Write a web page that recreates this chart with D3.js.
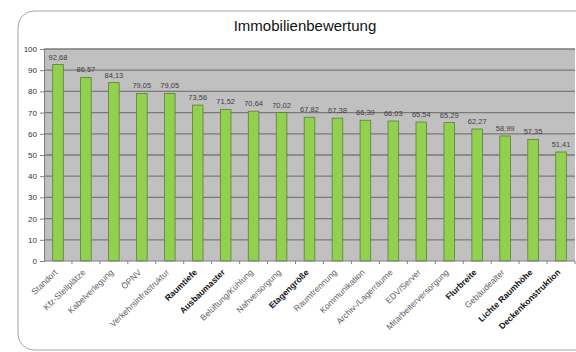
<!DOCTYPE html>
<html>
<head>
<meta charset="utf-8">
<script src="https://cdn.jsdelivr.net/npm/d3@7"></script>
<style>
  body { margin: 0; background: #fff; }
  svg { display: block; font-family: "Liberation Sans", Arial, sans-serif; }
</style>
</head>
<body>
<div id="chart"></div>
<script>
// Kategorien (Reihenfolge wie im Original)
const categories = [
    'Standort', 'Kfz-Stellplätze', 'Kabelverlegung', 'ÖPNV', 'Verkehrsinfrastruktur',
    'Raumtiefe', 'Ausbaumaster', 'Belüftung/Kühlung', 'Nahversorgung', 'Etagengröße',
    'Raumtrennung', 'Kommunikation', 'Archiv-/Lagerräume', 'EDV/Server', 'Mitarbeiterversorgung',
    'Flurbreite', 'Gebäudealter', 'Lichte Raumhöhe', 'Deckenkonstruktion'
];

const values = [
    92.68, 86.57, 84.13, 79.05, 79.05,
    73.56, 71.52, 70.64, 70.02, 67.82,
    67.38, 66.39, 66.03, 65.54, 65.29,
    62.27, 58.99, 57.35, 51.41
];

// fett gesetzte Kategorien
const boldCategories = ['Raumtiefe', 'Ausbaumaster', 'Etagengröße', 'Flurbreite', 'Lichte Raumhöhe', 'Deckenkonstruktion'];

const yTicks = [0, 10, 20, 30, 40, 50, 60, 70, 80, 90, 100];

const width = 576, height = 352;
const margin = { top: 49, right: 1, bottom: 91, left: 44 };

const deLocale = d3.formatLocale({ decimal: ',', thousands: '.', grouping: [3], currency: ['', ' €'] });
const fmt = deLocale.format('.2f');

const svg = d3.select('#chart').append('svg')
    .attr('width', width)
    .attr('height', height);

// Rahmen (rechts abgeschnitten)
svg.append('rect')
    .attr('x', 18)
    .attr('y', 11)
    .attr('width', 620)
    .attr('height', 339)
    .attr('rx', 16)
    .attr('fill', '#fff')
    .attr('stroke', '#a6a6a6')
    .attr('stroke-width', 1);

svg.append('text')
    .attr('x', 305)
    .attr('y', 31)
    .attr('text-anchor', 'middle')
    .attr('font-size', 15)
    .attr('fill', '#111')
    .text('Immobilienbewertung');

const data = categories.map((c, i) => ({ cat: c, value: values[i] }));

const x = d3.scaleBand()
    .domain(categories)
    .range([margin.left, width - margin.right])
    .paddingInner(0.62)
    .paddingOuter(0.31);

const y = d3.scaleLinear()
    .domain([0, 100])
    .range([height - margin.bottom, margin.top]);

const plot = svg.append('g');

// Plotfläche
plot.append('rect')
    .attr('x', margin.left)
    .attr('y', y(100))
    .attr('width', width - margin.right - margin.left)
    .attr('height', y(0) - y(100))
    .attr('fill', '#c0c0c0');

// Gitterlinien
plot.selectAll('.grid')
    .data(yTicks.filter(d => d > 0))
    .join('line')
    .attr('class', 'grid')
    .attr('x1', margin.left)
    .attr('x2', width - margin.right)
    .attr('y1', d => y(d))
    .attr('y2', d => y(d))
    .attr('stroke', '#7a7a7a')
    .attr('stroke-width', 1.3);

// Balken
plot.selectAll('.bar')
    .data(data)
    .join('rect')
    .attr('class', 'bar')
    .attr('x', d => x(d.cat))
    .attr('y', d => y(d.value))
    .attr('width', x.bandwidth())
    .attr('height', d => y(0) - y(d.value))
    .attr('fill', '#92d050')
    .attr('stroke', '#5f7f35')
    .attr('stroke-width', 0.8);

// Werte über den Balken
plot.selectAll('.val')
    .data(data)
    .join('text')
    .attr('class', 'val')
    .attr('x', d => x(d.cat) + x.bandwidth() / 2)
    .attr('y', d => y(d.value) - 5)
    .attr('text-anchor', 'middle')
    .attr('font-size', 7.5)
    .attr('fill', '#404040')
    .text(d => fmt(d.value));

// Y-Achse
const yAxis = svg.append('g')
    .attr('transform', `translate(${margin.left},0)`)
    .call(d3.axisLeft(y).tickValues(yTicks).tickSize(4).tickPadding(3));
yAxis.select('.domain').attr('stroke', '#808080');
yAxis.selectAll('.tick line').attr('stroke', '#808080');
yAxis.selectAll('.tick text').attr('font-size', 8).attr('fill', '#333');

// X-Achse
const xAxis = svg.append('g')
    .attr('transform', `translate(0,${y(0)})`);
xAxis.append('line')
    .attr('x1', margin.left)
    .attr('x2', width - margin.right)
    .attr('stroke', '#808080');

const step = x.step();
xAxis.selectAll('.xtick')
    .data(categories)
    .join('line')
    .attr('class', 'xtick')
    .attr('x1', d => x(d) + x.bandwidth() / 2 + step / 2)
    .attr('x2', d => x(d) + x.bandwidth() / 2 + step / 2)
    .attr('y1', 0)
    .attr('y2', 3)
    .attr('stroke', '#808080');

xAxis.selectAll('.xlabel')
    .data(categories)
    .join('text')
    .attr('class', 'xlabel')
    .attr('transform', d => `translate(${x(d) + x.bandwidth() / 2},${12}) rotate(-44)`)
    .attr('text-anchor', 'end')
    .attr('font-size', 8.5)
    .attr('font-weight', d => boldCategories.includes(d) ? 'bold' : 'normal')
    .attr('fill', d => boldCategories.includes(d) ? '#111' : '#606060')
    .text(d => d);
</script>
</body>
</html>
